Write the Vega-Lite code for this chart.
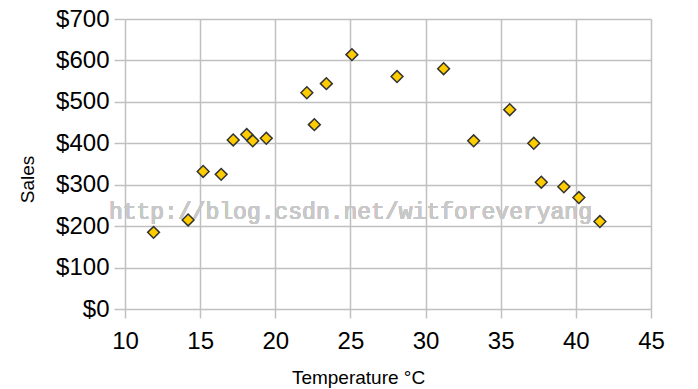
{
  "$schema": "https://vega.github.io/schema/vega-lite/v6.json",
  "width": 526,
  "height": 290,
  "autosize": "none",
  "padding": {"left": 125, "top": 19, "right": 47, "bottom": 80},
  "background": "white",
  "config": {
    "view": {"stroke": null},
    "font": "Liberation Sans"
  },
  "data": {
    "values": [
      {"temp": 11.9, "sales": 185},
      {"temp": 14.2, "sales": 215},
      {"temp": 15.2, "sales": 332},
      {"temp": 16.4, "sales": 325},
      {"temp": 17.2, "sales": 408},
      {"temp": 18.1, "sales": 421},
      {"temp": 18.5, "sales": 406},
      {"temp": 19.4, "sales": 412},
      {"temp": 22.1, "sales": 522},
      {"temp": 22.6, "sales": 445},
      {"temp": 23.4, "sales": 544},
      {"temp": 25.1, "sales": 614},
      {"temp": 28.1, "sales": 561},
      {"temp": 31.2, "sales": 580},
      {"temp": 33.2, "sales": 406},
      {"temp": 35.6, "sales": 481},
      {"temp": 37.2, "sales": 400},
      {"temp": 37.7, "sales": 306},
      {"temp": 39.2, "sales": 295},
      {"temp": 40.2, "sales": 269},
      {"temp": 41.6, "sales": 211}
    ]
  },
  "layer": [
    {
      "mark": {"type": "text", "font": "Liberation Mono", "fontSize": 23, "color": "#c8c8c8", "opacity": 0.5, "align": "center", "baseline": "middle"},
      "encoding": {
        "x": {"datum": 25.0, "type": "quantitative"},
        "y": {"datum": 233, "type": "quantitative"},
        "text": {"value": "http://blog.csdn.net/witforeveryang"}
      }
    },
    {
      "mark": {"type": "point", "shape": "diamond", "filled": true, "size": 140, "fill": "#FFCC00", "stroke": "#333333", "strokeWidth": 1.5, "opacity": 1},
      "encoding": {
        "x": {
          "field": "temp", "type": "quantitative",
          "scale": {"domain": [10, 45], "nice": false, "zero": false},
          "axis": {
            "title": "Temperature °C",
            "values": [10, 15, 20, 25, 30, 35, 40, 45],
            "domain": false,
            "grid": true, "gridColor": "#c0c0c0", "gridWidth": 1.5,
            "tickColor": "#c0c0c0", "tickWidth": 1.5, "tickSize": 9,
            "labelFontSize": 24, "labelColor": "#000000", "labelPadding": 11, "labelFlush": false,
            "titleFontSize": 19, "titleFontWeight": "normal", "titleColor": "#000000",
            "titleAnchor": null, "titleAlign": "center", "titleBaseline": "alphabetic",
            "titleX": 233, "titleY": 74
          }
        },
        "y": {
          "field": "sales", "type": "quantitative",
          "scale": {"domain": [0, 700], "nice": false},
          "axis": {
            "title": "Sales",
            "values": [0, 100, 200, 300, 400, 500, 600, 700],
            "format": "$.0f",
            "domain": false,
            "grid": true, "gridColor": "#c0c0c0", "gridWidth": 1.5,
            "tickColor": "#c0c0c0", "tickWidth": 1.5, "tickSize": 11,
            "labelFontSize": 24, "labelColor": "#000000", "labelPadding": 5,
            "titleFontSize": 19, "titleFontWeight": "normal", "titleColor": "#000000",
            "titleAnchor": null, "titleAngle": -90, "titleAlign": "center", "titleBaseline": "alphabetic",
            "titleX": -92, "titleY": 160
          }
        }
      }
    }
  ]
}
